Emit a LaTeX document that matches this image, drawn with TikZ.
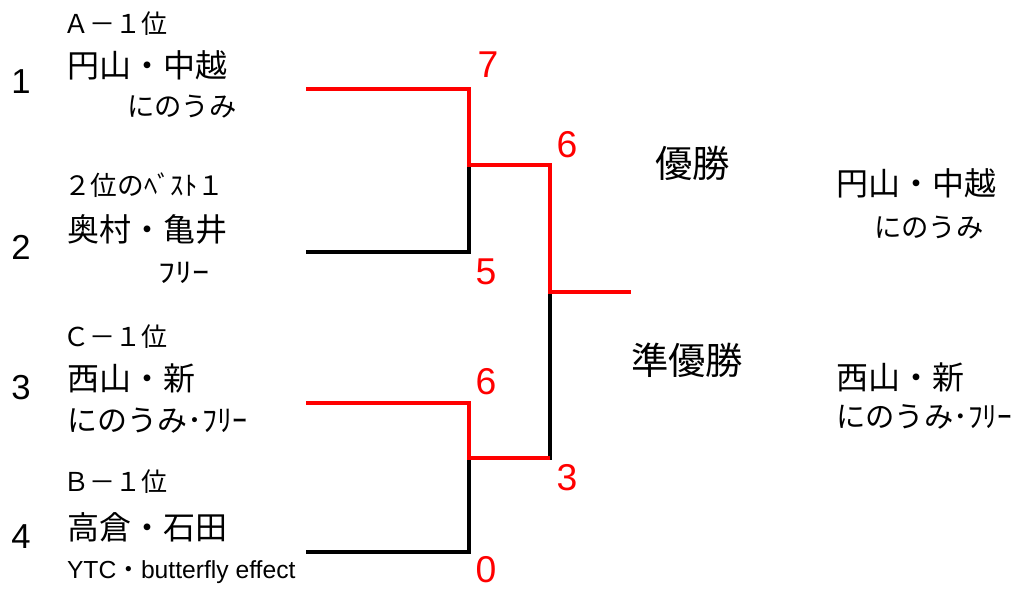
\documentclass[tikz,border=0pt]{standalone}
\usepackage{fontspec}
\usepackage{graphicx}
\setmainfont{Liberation Sans}
\newfontfamily\jp{Noto Sans CJK JP}
\begin{document}
\begin{tikzpicture}[x=0.75pt,y=-0.75pt,
  every node/.style={inner sep=0pt,outer sep=0pt},
  seed/.style={font=\fontsize{26pt}{30pt}\selectfont},
  score/.style={text=red,font=\fontsize{28pt}{32pt}\selectfont},
  grp/.style={anchor=west,font=\jp\fontsize{19.5pt}{22pt}\selectfont},
  pname/.style={anchor=west,font=\jp\fontsize{24pt}{28pt}\selectfont},
  club/.style={anchor=west,font=\jp\fontsize{20.5pt}{24pt}\selectfont},
  title/.style={anchor=west,font=\jp\fontsize{28pt}{32pt}\selectfont},
  redline/.style={draw=red,line width=3pt},
  blackline/.style={draw=black,line width=3pt}]
\useasboundingbox (0,0) rectangle (1024,592);
% seeds
\node[seed] (s1) at (21,82) {1};
\node[seed] (s2) at (21,247) {2};
\node[seed] (s3) at (21,388) {3};
\node[seed] (s4) at (21,537) {4};
% left entries
\node[grp] (g1) at (63,24) {Ａ－１位};
\node[pname] (n1) at (67,65) {円山・中越};
\node[club] (c1) at (127,107) {にのうみ};
\node[grp,font=\jp\fontsize{20pt}{22pt}\selectfont] (g2) at (64,185) {２位のﾍﾞｽﾄ１};
\node[pname] (n2) at (67,229) {奥村・亀井};
\node[club] (c2) at (158,273) {\scalebox{1.25}[1]{ﾌﾘｰ}};
\node[grp] (g3) at (63,337) {Ｃ－１位};
\node[pname] (n3) at (67,378) {西山・新};
\node[club,font=\jp\fontsize{22.5pt}{26pt}\selectfont] (c3) at (67,421) {にのうみ･ﾌﾘｰ};
\node[grp] (g4) at (63,482) {Ｂ－１位};
\node[pname] (n4) at (67,527) {高倉・石田};
\node[anchor=west,font=\fontsize{18.5pt}{22pt}\selectfont] (c4) at (67,572) {YTC{\jp ・}butterfly effect};
% bracket points
\coordinate (p1) at (306,89);
\coordinate (p2) at (306,252);
\coordinate (p3) at (306,403);
\coordinate (p4) at (306,552);
\coordinate (j1) at (469,165);
\coordinate (j2) at (469,458);
\coordinate (f) at (550,292);
\coordinate (e) at (631,292);
\draw[blackline] (p2) -| (j1);
\draw[blackline] (p4) -| (j2);
\draw[blackline] (j2) -| (f);
\draw[redline] (p1) -| (j1) -| (f) -- (e);
\draw[redline] (p3) -| (j2) -- (j2 -| f);
% scores
\node[score] (r1) at (488,65) {7};
\node[score] (r2) at (486,272) {5};
\node[score] (r3) at (486,382) {6};
\node[score] (r4) at (486,570) {0};
\node[score] (r5) at (567,145) {6};
\node[score] (r6) at (567,478) {3};
% results
\node[title] (w) at (655,163) {優勝};
\node[title] (ru) at (631,360) {準優勝};
\node[pname] (wn) at (836,183) {円山・中越};
\node[club] (wc) at (874,228) {にのうみ};
\node[pname] (rn) at (836,377) {西山・新};
\node[club,font=\jp\fontsize{22pt}{26pt}\selectfont] (rc) at (836,417) {にのうみ･ﾌﾘｰ};
\end{tikzpicture}
\end{document}
